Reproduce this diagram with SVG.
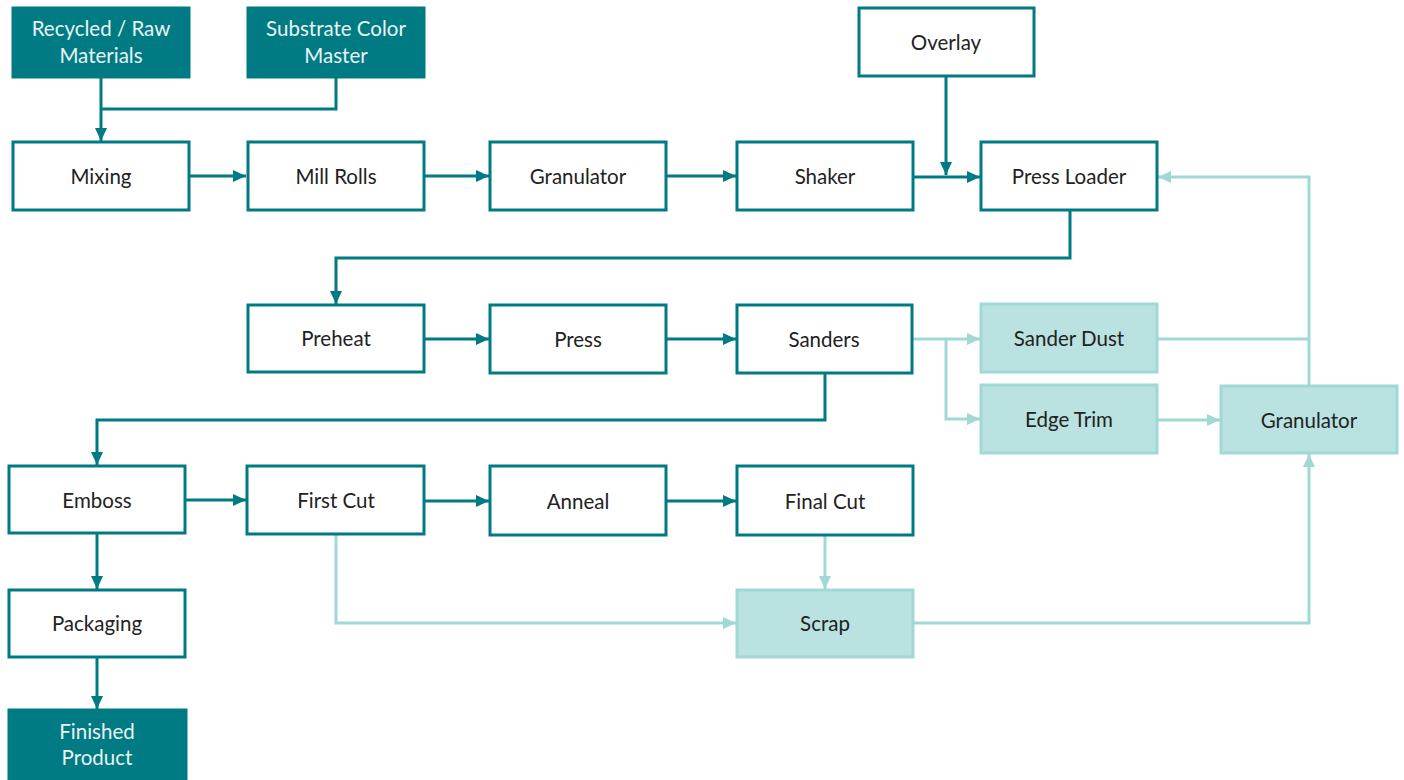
<svg xmlns="http://www.w3.org/2000/svg" width="1404" height="780" viewBox="0 0 1404 780">
<style>
.n rect{fill:#fff;stroke:#007a83;stroke-width:3}
.d rect{fill:#007a83;stroke:#007a83;stroke-width:3}
.l rect{fill:#b9e2e0;stroke:#9fd8d5;stroke-width:3}
text{font-family:Lato,"Open Sans","Liberation Sans",sans-serif;font-size:20.5px;fill:#222;text-anchor:middle;dominant-baseline:central}
.d text{fill:#e8f4f4}
.cd{fill:none;stroke:#007a83;stroke-width:3}
.cl{fill:none;stroke:#9fd8d5;stroke-width:3}
</style>
<defs>
<marker id="ad" markerUnits="userSpaceOnUse" markerWidth="14" markerHeight="12" refX="13" refY="6" orient="auto"><path d="M0,0L13,6L0,12z" fill="#007a83"/></marker>
<marker id="al" markerUnits="userSpaceOnUse" markerWidth="14" markerHeight="12" refX="13" refY="6" orient="auto"><path d="M0,0L13,6L0,12z" fill="#9fd8d5"/></marker>
</defs>
<g id="connectors">
<path class="cd" d="M101,77V141" marker-end="url(#ad)"/>
<path class="cd" d="M336,77V109H101"/>
<path class="cd" d="M189,176H246" marker-end="url(#ad)"/>
<path class="cd" d="M424,176H489" marker-end="url(#ad)"/>
<path class="cd" d="M666,176H736" marker-end="url(#ad)"/>
<path class="cd" d="M913,177H980" marker-end="url(#ad)"/>
<path class="cd" d="M946,76V175" marker-end="url(#ad)"/>
<path class="cd" d="M1070,210V258H336V304" marker-end="url(#ad)"/>
<path class="cd" d="M424,339H489" marker-end="url(#ad)"/>
<path class="cd" d="M666,339H736" marker-end="url(#ad)"/>
<path class="cl" d="M912,339H980" marker-end="url(#al)"/>
<path class="cl" d="M946,339V419H980" marker-end="url(#al)"/>
<path class="cl" d="M1157,339H1309"/>
<path class="cl" d="M1309,386V177H1158" marker-end="url(#al)"/>
<path class="cl" d="M1157,420H1220" marker-end="url(#al)"/>
<path class="cd" d="M825,373V420H97V465" marker-end="url(#ad)"/>
<path class="cd" d="M185,500H246" marker-end="url(#ad)"/>
<path class="cd" d="M424,501H489" marker-end="url(#ad)"/>
<path class="cd" d="M666,501H736" marker-end="url(#ad)"/>
<path class="cd" d="M97,533V589" marker-end="url(#ad)"/>
<path class="cd" d="M97,657V709" marker-end="url(#ad)"/>
<path class="cl" d="M336,534V623H736" marker-end="url(#al)"/>
<path class="cl" d="M825,535V589" marker-end="url(#al)"/>
<path class="cl" d="M913,623H1309V454" marker-end="url(#al)"/>
</g>
<g id="recycled" class="d"><rect x="13" y="8" width="176" height="69"/><text x="101" y="28">Recycled / Raw</text><text x="101" y="55">Materials</text></g>
<g id="substrate" class="d"><rect x="248" y="8" width="176" height="69"/><text x="336" y="28">Substrate Color</text><text x="336" y="55">Master</text></g>
<g id="overlay" class="n"><rect x="859" y="8" width="175" height="68"/><text x="946" y="42">Overlay</text></g>
<g id="mixing" class="n"><rect x="13" y="142" width="176" height="68"/><text x="101" y="176">Mixing</text></g>
<g id="millrolls" class="n"><rect x="248" y="142" width="176" height="68"/><text x="336" y="176">Mill Rolls</text></g>
<g id="granulator1" class="n"><rect x="490" y="142" width="176" height="68"/><text x="578" y="176">Granulator</text></g>
<g id="shaker" class="n"><rect x="737" y="142" width="176" height="68"/><text x="825" y="176">Shaker</text></g>
<g id="pressloader" class="n"><rect x="981" y="142" width="176" height="68"/><text x="1069" y="176">Press Loader</text></g>
<g id="preheat" class="n"><rect x="248" y="305" width="176" height="67"/><text x="336" y="338">Preheat</text></g>
<g id="press" class="n"><rect x="490" y="305" width="176" height="68"/><text x="578" y="339">Press</text></g>
<g id="sanders" class="n"><rect x="737" y="305" width="175" height="68"/><text x="824" y="339">Sanders</text></g>
<g id="sanderdust" class="l"><rect x="981" y="304" width="176" height="68"/><text x="1069" y="338">Sander Dust</text></g>
<g id="edgetrim" class="l"><rect x="981" y="385" width="176" height="68"/><text x="1069" y="419">Edge Trim</text></g>
<g id="granulator2" class="l"><rect x="1221" y="386" width="176" height="67"/><text x="1309" y="420">Granulator</text></g>
<g id="emboss" class="n"><rect x="9" y="466" width="176" height="67"/><text x="97" y="500">Emboss</text></g>
<g id="firstcut" class="n"><rect x="247" y="466" width="177" height="68"/><text x="336" y="500">First Cut</text></g>
<g id="anneal" class="n"><rect x="490" y="466" width="176" height="69"/><text x="578" y="501">Anneal</text></g>
<g id="finalcut" class="n"><rect x="737" y="466" width="176" height="69"/><text x="825" y="501">Final Cut</text></g>
<g id="packaging" class="n"><rect x="9" y="590" width="176" height="67"/><text x="97" y="623">Packaging</text></g>
<g id="scrap" class="l"><rect x="737" y="590" width="176" height="67"/><text x="825" y="623">Scrap</text></g>
<g id="finished" class="d"><rect x="9" y="710" width="177" height="72"/><text x="97" y="731">Finished</text><text x="97" y="757">Product</text></g>
</svg>
